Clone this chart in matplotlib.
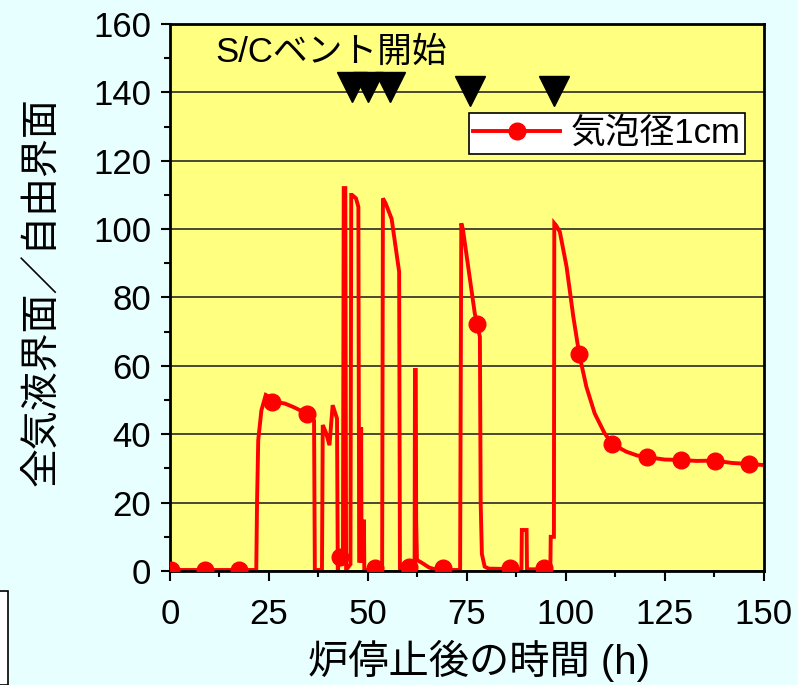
import matplotlib
matplotlib.use("Agg")
import matplotlib.pyplot as plt
from matplotlib.lines import Line2D
from matplotlib.patches import Rectangle
from matplotlib.ticker import MultipleLocator

plt.rcParams['font.family'] = ['Liberation Sans', 'Noto Sans CJK JP']

# 炉停止後の時間 (h) と 全気液界面／自由界面 の推移 (気泡径1cm)
time_h = [0.0, 21.8, 22.0, 22.3, 23.1, 24.2, 25.0, 26.0, 29.0, 31.1, 34.5, 36.4,
          36.6, 38.4, 38.6, 39.4, 40.3, 41.1, 42.2, 42.4, 42.9, 43.7, 43.9, 44.3,
          44.5, 45.6, 45.8, 46.0, 47.0, 47.6, 47.8, 48.1, 48.3, 48.4, 48.9, 49.0,
          49.1, 53.6, 53.8, 54.5, 56.0, 57.9, 58.1, 61.8, 61.9, 62.1, 62.2, 62.4,
          63.5, 65.5, 67.5, 73.3, 73.6, 74.0, 77.0, 78.3, 78.5, 78.8, 79.5, 80.5,
          88.8, 88.9, 90.1, 90.2, 96.1, 96.2, 97.0, 97.1, 97.6, 98.5, 100.2, 101.9,
          103.4, 105.2, 107.3, 109.8, 111.8, 115.3, 118.0, 120.6, 125.0, 129.0, 133.0,
          137.6, 142.0, 146.3, 150.0]
level = [0.3, 0.3, 20.0, 38.3, 47.0, 51.5, 51.0, 49.5, 49.0, 48.0, 46.1, 44.0,
         0.3, 0.3, 42.7, 40.5, 36.8, 48.5, 44.6, 0.3, 4.2, 4.0, 112.0, 112.0,
         0.3, 2.0, 110.0, 110.0, 109.0, 106.5, 3.0, 3.0, 42.0, 3.0, 3.0, 15.0,
         0.3, 0.3, 109.0, 107.5, 103.0, 87.5, 0.3, 0.5, 58.8, 58.8, 15.0, 3.2,
         2.5, 1.0, 0.3, 0.3, 101.7, 100.0, 75.4, 68.5, 20.0, 5.0, 1.3, 0.7,
         0.5, 12.0, 12.0, 0.5, 0.5, 10.0, 10.0, 101.7, 101.0, 99.2, 89.0, 74.4,
         63.4, 53.9, 46.1, 40.3, 37.1, 34.9, 33.8, 33.3, 32.6, 32.5, 32.2,
         32.3, 31.6, 31.3, 31.0]

marker_t = [0.3, 8.8, 17.4, 25.9, 34.6, 42.9, 51.8, 60.3, 69.0, 77.6, 86.0, 94.4,
            103.4, 111.8, 120.6, 129.0, 137.6, 146.3]
marker_level = [0.3, 0.3, 0.3, 49.5, 46.0, 4.2, 0.8, 1.3, 0.8, 72.2, 0.8, 0.8,
                63.4, 37.1, 33.3, 32.5, 32.3, 31.3]

# S/Cベント開始 の時刻
vent_t = [45.9, 50.0, 55.7, 75.8, 97.1]
vent_y = [141.5, 141.5, 141.5, 140.5, 140.5]

fig = plt.figure(figsize=(7.98, 6.85), dpi=100, facecolor='#E8FFFF')
ax = fig.add_axes([0.213, 0.1664, 0.744, 0.7986])
ax.set_facecolor('#FFFF80')

ax.plot(time_h, level, color='#FF0000', lw=2.8, solid_joinstyle='miter')
ax.plot(marker_t, marker_level, 'o', color='#FF0000', ms=12, zorder=3)
ax.plot(vent_t, vent_y, 'v', color='black', ms=21, zorder=4)
ax.text(11.4, 151.8, 'S/Cベント開始', fontsize=25, va='center', ha='left')

ax.set_xlim(0, 150)
ax.set_ylim(0, 160)
ax.xaxis.set_major_locator(MultipleLocator(25))
ax.xaxis.set_minor_locator(MultipleLocator(12.5))
ax.yaxis.set_major_locator(MultipleLocator(20))
ax.yaxis.set_minor_locator(MultipleLocator(10))
ax.grid(axis='y', which='major', color='#3a3a30', lw=1.3)
ax.set_axisbelow(True)
ax.tick_params(which='major', direction='out', width=1.5, labelsize=25)
ax.tick_params(axis='y', which='major', length=6.5, pad=7)
ax.tick_params(axis='x', which='major', length=7.5, pad=12)
ax.tick_params(which='minor', direction='out', length=4.5, width=1.5)
for sp in ax.spines.values():
    sp.set_linewidth(2)

ax.set_xlabel('炉停止後の時間 (h)', fontsize=29)
ax.set_ylabel('全気液界面／自由界面', fontsize=28)
ax.xaxis.set_label_coords(0.52, -0.125)
ax.yaxis.set_label_coords(-0.185, 0.51)

handle = Line2D([], [], color='#FF0000', lw=2.8, marker='o', ms=12)
leg = ax.legend([handle], ['気泡径1cm'], loc='upper right',
                bbox_to_anchor=(0.968, 0.838), fontsize=25, frameon=True,
                fancybox=False, framealpha=1, edgecolor='black',
                handlelength=2.5, borderpad=0.12, handletextpad=0.3,
                borderaxespad=0)
leg.get_frame().set_linewidth(1.2)

fig.patches.append(Rectangle((-0.01, 0), 0.02, 94 / 685, transform=fig.transFigure,
                             facecolor='white', edgecolor='black', lw=1.2))

fig.savefig('out.png', dpi=100, facecolor=fig.get_facecolor())
